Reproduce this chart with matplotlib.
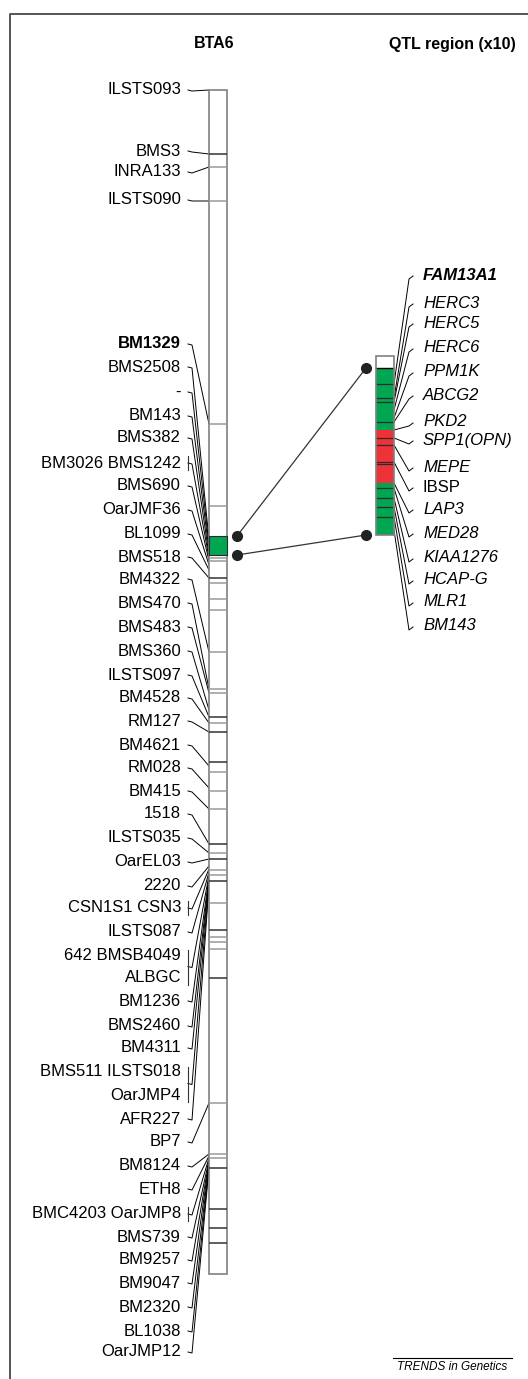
import matplotlib.pyplot as plt
from matplotlib.patches import Rectangle

plt.rcParams['font.family'] = ['Liberation Sans', 'DejaVu Sans']

# BTA6 markers: label text, label row, and where the marker sits on the chromosome
left_names = ['ILSTS093', 'BMS3', 'INRA133', 'ILSTS090', 'BM1329', 'BMS2508', '-',
              'BM143', 'BMS382', 'BM3026 BMS1242', 'BMS690', 'OarJMF36', 'BL1099',
              'BMS518', 'BM4322', 'BMS470', 'BMS483', 'BMS360', 'ILSTS097', 'BM4528',
              'RM127', 'BM4621', 'RM028', 'BM415', '1518', 'ILSTS035', 'OarEL03',
              '2220', 'CSN1S1 CSN3', 'ILSTS087', '642 BMSB4049', 'ALBGC', 'BM1236',
              'BMS2460', 'BM4311', 'BMS511 ILSTS018', 'OarJMP4', 'AFR227', 'BP7',
              'BM8124', 'ETH8', 'BMC4203 OarJMP8', 'BMS739', 'BM9257', 'BM9047',
              'BM2320', 'BL1038', 'OarJMP12']
left_label_y = [90, 151, 172, 200, 344, 367, 392, 416, 438, 463, 486, 510, 534, 557,
                579, 603, 627, 651, 675, 698, 721, 745, 768, 791, 814, 838, 862, 886,
                908, 932, 955, 978, 1001, 1026, 1048, 1072, 1095, 1119, 1142, 1166,
                1189, 1214, 1237, 1260, 1283, 1307, 1331, 1352]
left_pos = [90, 154, 167, 201, 424, 540, 545, 550, 555, 558, 561, 565, 570, 578,
            652, 689, 693, 710, 717, 723, 732, 766, 788, 809, 844, 853, 859,
            866, 869, 872, 875, None, 877, 879, 881, 883, None, 886, 1103,
            1154, 1156, 1158, 1160, 1161, 1162, 1164, 1166, 1168]
# markers mapped to a single position (shown with a bracket)
same_pos_single = ['BM3026 BMS1242', 'CSN1S1 CSN3', 'BMC4203 OarJMP8']
same_pos_pairs = [('642 BMSB4049', 'ALBGC'), ('BMS511 ILSTS018', 'OarJMP4')]

chrom_top, chrom_bottom = 90, 1274
dark_bands = [154, 578, 717, 732, 762, 844, 859, 881, 930, 978, 1168, 1209, 1228, 1243]
grey_bands = [167, 201, 424, 506, 558, 561, 583, 599, 610, 652, 689, 693, 723, 772,
              791, 809, 853, 870, 875, 903, 937, 942, 949, 1103, 1154, 1158]
qtl_span = (536, 555)

# QTL region, expanded x10
right_names = ['FAM13A1', 'HERC3', 'HERC5', 'HERC6', 'PPM1K', 'ABCG2', 'PKD2',
               'SPP1(OPN)', 'MEPE', 'IBSP', 'LAP3', 'MED28', 'KIAA1276', 'HCAP-G',
               'MLR1', 'BM143']
right_label_y = [275, 303, 323, 348, 372, 395, 422, 440, 467, 487, 509, 533, 558,
                 580, 602, 626]
right_pos = [384, 398, 402, 410, 418, 422, 430, 438, 445, 462, 483, 488, 498, 507,
             517, 530]
zoom_top, zoom_bottom = 356, 535
zoom_segments = [(356, 368, 'white'), (368, 430, '#00a651'),
                 (430, 483, '#ee3338'), (483, 535, '#00a651')]
zoom_lines = [384, 398, 402, 422, 438, 445, 462, 464, 488, 498, 507, 517]

fig = plt.figure(figsize=(5.28, 13.79), dpi=100)
ax = fig.add_axes([0, 0, 1, 1])
ax.set_xlim(0, 528)
ax.set_ylim(1379, 0)
ax.axis('off')

# page frame
ax.plot([10, 10, 528], [1379, 14, 14], color='#555555', lw=1.4)

ax.text(214, 44, 'BTA6', ha='center', va='center', fontsize=11.5, fontweight='bold')
ax.text(452, 44, 'QTL region (x10)', ha='center', va='center', fontsize=11.5,
        fontweight='bold')

# main chromosome
cx0, cx1 = 209, 227
ax.add_patch(Rectangle((cx0, chrom_top), cx1 - cx0, chrom_bottom - chrom_top,
                       facecolor='white', edgecolor='#808080', lw=1.2, zorder=2))
ax.add_patch(Rectangle((cx0, qtl_span[0]), cx1 - cx0, qtl_span[1] - qtl_span[0],
                       facecolor='#00a651', edgecolor='#2b2b2b', lw=0.8, zorder=3))
ax.hlines(grey_bands, cx0, cx1, color='#9a9a9a', lw=1.1, zorder=3)
ax.hlines(dark_bands, cx0, cx1, color='#333333', lw=1.1, zorder=3)

# left labels and connectors
pair_first = {a: b for a, b in same_pos_pairs}
label_y = dict(zip(left_names, left_label_y))
for name, ly, pos in zip(left_names, left_label_y, left_pos):
    weight = 'bold' if name == 'BM1329' else 'normal'
    ax.text(181, ly, name, ha='right', va='center', fontsize=12, fontweight=weight)
    if pos is None:
        continue
    y0 = ly
    if name in same_pos_single:
        ax.plot([188, 188], [ly - 7, ly + 7], color='#333333', lw=0.8)
    elif name in pair_first:
        y1 = label_y[pair_first[name]]
        ax.plot([188, 188], [ly - 5, y1 + 7], color='#333333', lw=0.8)
        y0 = (ly + y1) / 2
    ax.plot([188, 192, cx0], [y0, y0 + 1, pos], color='black', lw=0.7, zorder=1)

# zoomed QTL chromosome
zx0, zx1 = 376, 394
for top, bottom, colour in zoom_segments:
    ax.add_patch(Rectangle((zx0, top), zx1 - zx0, bottom - top, facecolor=colour,
                           edgecolor='none', zorder=2))
ax.hlines(zoom_lines, zx0, zx1, color='#2b2b2b', lw=0.9, zorder=3)
ax.hlines([zoom_segments[0][1]], zx0, zx1, color='black', lw=1.0, zorder=3)
ax.add_patch(Rectangle((zx0, zoom_top), zx1 - zx0, zoom_bottom - zoom_top,
                       facecolor='none', edgecolor='#808080', lw=1.2, zorder=4))

for name, ly, pos in zip(right_names, right_label_y, right_pos):
    if name == 'FAM13A1':
        style, weight = 'italic', 'bold'
    elif name == 'IBSP':
        style, weight = 'normal', 'normal'
    else:
        style, weight = 'italic', 'normal'
    ax.text(423, ly, name, ha='left', va='center', fontsize=12, fontstyle=style,
            fontweight=weight)
    ax.plot([413, 409, zx1], [ly + 1, ly + 4, pos], color='black', lw=0.7, zorder=1)

# links between the QTL interval and its expanded view
ax.plot([237, 366], [qtl_span[0], zoom_segments[1][0]], color='#333333', lw=0.9)
ax.plot([237, 366], [qtl_span[1], zoom_bottom], color='#333333', lw=0.9)
ax.plot([237, 237, 366, 366], [qtl_span[0], qtl_span[1], zoom_segments[1][0], zoom_bottom],
        'o', color='#222222', ms=7, zorder=5)

ax.plot([393, 512], [1358, 1358], color='black', lw=0.8)
ax.text(452, 1367, 'TRENDS in Genetics', ha='center', va='center', fontsize=8.5,
        fontstyle='italic')

fig.savefig('out.png', dpi=100)
